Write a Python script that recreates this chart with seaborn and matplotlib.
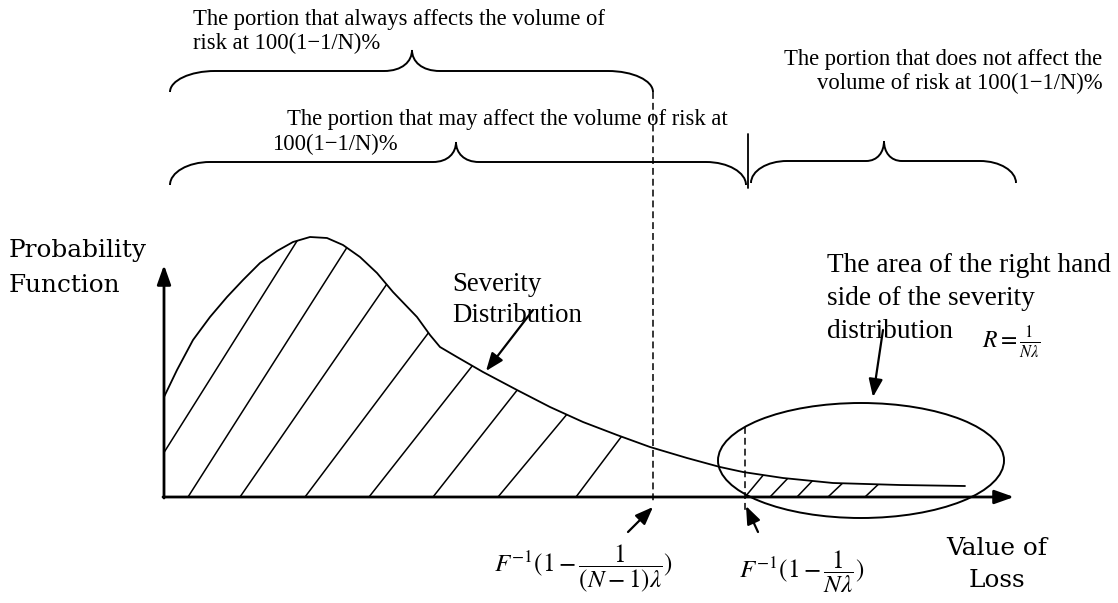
import matplotlib
matplotlib.use("Agg")
import matplotlib.pyplot as plt
import seaborn as sns
import pandas as pd
from matplotlib.path import Path
from matplotlib.patches import PathPatch, Ellipse, Polygon

# ---- severity density (value of loss vs. probability) ----
loss = [0.00, 0.13, 0.29, 0.46, 0.63, 0.79, 0.96, 1.13, 1.29, 1.46, 1.63,
        1.79, 1.96, 2.13, 2.29, 2.53, 2.66, 2.76, 2.93, 3.19, 3.53, 3.86,
        4.19, 4.53, 4.86, 5.23, 5.56, 5.79, 6.19, 6.69, 7.36, 8.01]
density = [1.00, 1.27, 1.57, 1.80, 2.00, 2.17, 2.34, 2.46, 2.55, 2.60, 2.59,
           2.52, 2.40, 2.24, 2.05, 1.80, 1.62, 1.50, 1.40, 1.25, 1.07, 0.90,
           0.75, 0.62, 0.50, 0.39, 0.30, 0.25, 0.19, 0.14, 0.12, 0.11]

# quantiles marked on the loss axis
q_prev = 4.89   # F^-1(1 - 1/((N-1)λ))
q_tail = 5.81   # F^-1(1 - 1/(Nλ))

# hatching under the density: start on the loss axis and slope of each stroke
body_hatch_start = [-0.28, 0.24, 0.76, 1.41, 2.05, 2.69, 3.34, 4.12]
body_hatch_slope = [1.59, 1.57, 1.45, 1.33, 1.27, 1.27, 1.20, 1.33]
tail_hatch_start = [5.81, 6.06, 6.33, 6.64, 7.01]
tail_hatch_slope = [1.20, 1.05, 1.05, 0.95, 0.95]

MINUS = "\u2212"
top_left_lines = ["The portion that always affects the volume of",
                  f"risk at 100(1{MINUS}1/N)%"]
mid_lines = ["The portion that may affect the volume of risk at",
             f"100(1{MINUS}1/N)%"]
right_lines = ["The portion that does not affect the",
               f"volume of risk at 100(1{MINUS}1/N)%"]
area_lines = ["The area of the right hand", "side of the severity",
              "distribution"]
severity_lines = ["Severity", "Distribution"]
ylabel_lines = ["Probability", "Function"]
xlabel_lines = ["Value of", "Loss"]

sns.set_theme(style="white")
plt.rcParams["mathtext.fontset"] = "stix"
plt.rcParams["text.color"] = "black"
SERIF = ["Liberation Serif", "DejaVu Serif"]
CENTURY = ["DejaVu Serif"]

fig = plt.figure(figsize=(11.18, 6.03), dpi=100)
ax = fig.add_axes([0, 0, 1, 1])
ax.set_xlim(-1.64, 9.54)
ax.set_ylim(-1.06, 4.97)
ax.axis("off")

df = pd.DataFrame({"loss": loss, "density": density})
sns.lineplot(data=df, x="loss", y="density", ax=ax, color="black",
             linewidth=1.3, legend=False)

# region under the curve used to clip the hatch strokes
under = Polygon([(loss[0], 0)] + list(zip(loss, density)) + [(loss[-1], 0)],
                closed=True, facecolor="none", edgecolor="none")
ax.add_patch(under)


def hatch(starts, slopes, lw):
    for x0, m in zip(starts, slopes):
        h = 3.0
        ln, = ax.plot([x0, x0 + h / m], [0, h], color="black", lw=lw,
                      solid_capstyle="butt")
        ln.set_clip_path(under)


hatch(body_hatch_start, body_hatch_slope, 1.1)
hatch(tail_hatch_start, tail_hatch_slope, 1.1)

# coordinate axes with arrow heads
axis_style = dict(arrowstyle="-|>,head_length=0.9,head_width=0.32",
                  color="black", lw=2.0, shrinkA=0, shrinkB=0,
                  mutation_scale=13)
ax.annotate("", xy=(0, 2.32), xytext=(0, -0.01), arrowprops=axis_style)
ax.annotate("", xy=(8.50, 0), xytext=(-0.01, 0), arrowprops=axis_style)

# dashed quantile markers
ax.plot([q_prev, q_prev], [4.05, -0.06], color="black", lw=1.1,
        dashes=(4.5, 2.6))
ax.plot([q_tail, q_tail], [0.70, -0.13], color="black", lw=1.1,
        dashes=(4.5, 2.6))

# ellipse around the right tail
ax.add_patch(Ellipse((6.97, 0.365), 2.86, 1.15, facecolor="none",
                     edgecolor="black", lw=1.4))


def brace(x0, x1, xt, yb, yf, yt, r=0.40, s=0.25):
    k = 0.55
    verts = [
        (x0, yb),
        (x0, yb + k * (yf - yb)), (x0 + r * (1 - k), yf), (x0 + r, yf),
        (xt - s, yf),
        (xt - s * 0.35, yf), (xt, yf + 0.45 * (yt - yf)), (xt, yt),
        (xt, yf + 0.45 * (yt - yf)), (xt + s * 0.35, yf), (xt + s, yf),
        (x1 - r, yf),
        (x1 - r * (1 - k), yf), (x1, yb + k * (yf - yb)), (x1, yb),
    ]
    C, L = Path.CURVE4, Path.LINETO
    codes = [Path.MOVETO, C, C, C, L, C, C, C, C, C, C, L, C, C, C]
    ax.add_patch(PathPatch(Path(verts, codes), facecolor="none",
                           edgecolor="black", lw=1.4))


brace(0.06, q_prev, 2.48, 4.05, 4.26, 4.47, r=0.45, s=0.28)
brace(0.06, 5.82, 2.92, 3.12, 3.35, 3.55, r=0.40, s=0.23)
brace(5.87, 8.52, 7.20, 3.14, 3.36, 3.56, r=0.36, s=0.18)
ax.plot([5.84, 5.84], [3.63, 3.09], color="black", lw=1.3)

# pointer arrows
ptr = dict(arrowstyle="-|>,head_length=0.9,head_width=0.35", color="black",
           lw=1.6, shrinkA=0, shrinkB=0, mutation_scale=12)
ax.annotate("", xy=(3.22, 1.26), xytext=(3.69, 1.87), arrowprops=ptr)
ax.annotate("", xy=(7.09, 1.00), xytext=(7.19, 1.67), arrowprops=ptr)
ax.annotate("", xy=(q_prev, -0.10), xytext=(4.64, -0.35), arrowprops=ptr)
ax.annotate("", xy=(q_tail + 0.01, -0.09), xytext=(5.94, -0.35),
            arrowprops=ptr)


# text blocks
def lines(txts, x, y0, step, size, family, ha="left"):
    for i, t in enumerate(txts):
        ax.text(x, y0 - i * step, t, fontsize=size, family=family, ha=ha,
                va="baseline", color="black")


lines(top_left_lines, 0.29, 4.72, 0.24, 16.3, SERIF)
ax.text(1.23, 3.72, mid_lines[0], fontsize=16.3, family=SERIF,
        va="baseline", color="black")
ax.text(1.08, 3.47, mid_lines[1], fontsize=16.3, family=SERIF,
        va="baseline", color="black")
lines(right_lines, 9.385, 4.32, 0.24, 16.3, SERIF, ha="right")
lines(severity_lines, 2.88, 2.06, 0.31, 19.4, SERIF)
lines(area_lines, 6.63, 2.25, 0.33, 19.7, SERIF)
lines(ylabel_lines, -1.55, 2.40, 0.35, 17.8, CENTURY)
lines(xlabel_lines, 8.33, -0.58, 0.32, 17.8, CENTURY, ha="center")

ax.text(8.18, 1.50, r"$R = \frac{1}{N\lambda}$", fontsize=17,
        va="baseline", ha="left", color="black")
ax.text(4.19, -0.72, r"$F^{-1}(1-\dfrac{1}{(N-1)\lambda})$", fontsize=18,
        va="center", ha="center", color="black")
ax.text(6.38, -0.75, r"$F^{-1}(1-\dfrac{1}{N\lambda})$", fontsize=18,
        va="center", ha="center", color="black")

fig.savefig("out.png", dpi=100, facecolor="white")
